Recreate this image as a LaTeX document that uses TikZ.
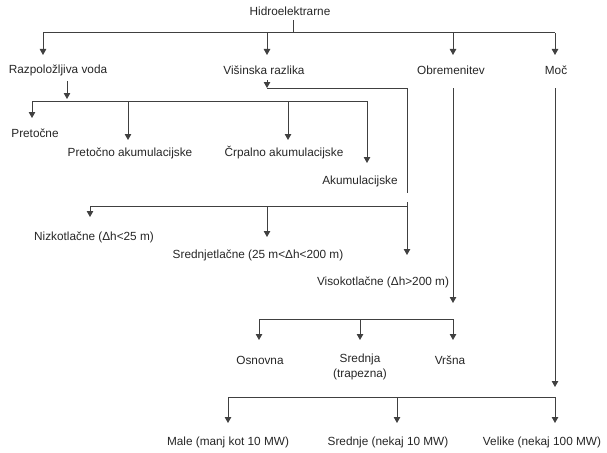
\documentclass[tikz,border=0pt]{standalone}
\usepackage{fontspec}
\setmainfont{Liberation Sans}
\usetikzlibrary{arrows.meta}
\begin{document}
\begin{tikzpicture}[x=1pt,y=-1pt,
  lbl/.style={font=\fontsize{11.8}{15}\selectfont, inner sep=0pt, text=black!85},
  ln/.style={draw=black!75, line width=1pt},
  arr/.style={ln, -{Triangle[length=6pt,width=6.5pt]}}]
\useasboundingbox (0,0) rectangle (607,452);
% labels
\node[lbl] (hid) at (290,11) {Hidroelektrarne};
\node[lbl] (raz) at (58,70) {Razpoložljiva voda};
\node[lbl] (vis) at (264,70) {Višinska razlika};
\node[lbl] (obr) at (451,70) {Obremenitev};
\node[lbl] (moc) at (556,70) {Moč};
\node[lbl] (pret) at (35,133) {Pretočne};
\node[lbl] (pak) at (130,153) {Pretočno akumulacijske};
\node[lbl] (cak) at (284,153) {Črpalno akumulacijske};
\node[lbl] (akum) at (360,181) {Akumulacijske};
\node[lbl] (niz) at (94,237) {Nizkotlačne (Δh<25 m)};
\node[lbl] (sre) at (258,255) {Srednjetlačne (25 m<Δh<200 m)};
\node[lbl] (viso) at (383,282) {Visokotlačne (Δh>200 m)};
\node[lbl] (osn) at (260,360) {Osnovna};
\node[lbl, align=center] (srj) at (360,367) {Srednja\\(trapezna)};
\node[lbl] (vrs) at (450,360) {Vršna};
\node[lbl] (male) at (228,442) {Male (manj kot 10 MW)};
\node[lbl] (srn) at (388,442) {Srednje (nekaj 10 MW)};
\node[lbl] (vel) at (542,442) {Velike (nekaj 100 MW)};
% level 1
\coordinate (j0) at (293,33);
\coordinate (a1) at (43,33);
\coordinate (a2) at (267,33);
\coordinate (a3) at (453,33);
\coordinate (a4) at (555,33);
\coordinate (t1) at (43,55);
\coordinate (t2) at (267,55);
\coordinate (t3) at (453,55);
\coordinate (t4) at (555,55);
\draw[ln, shorten >=4pt] (j0) -- (j0 |- hid.south);
\draw[ln] (a1) -- (a4);
\draw[arr] (a1) -- (t1);
\draw[arr] (a2) -- (t2);
\draw[arr] (a3) -- (t3);
\draw[arr] (a4) -- (t4);
% Razpolozljiva voda
\coordinate (r0) at (67,81);
\coordinate (r1) at (67,99);
\coordinate (b1) at (32,101);
\coordinate (b2) at (128,101);
\coordinate (b3) at (288,101);
\coordinate (b4) at (367,101);
\coordinate (u1) at (32,118);
\coordinate (u2) at (128,140);
\coordinate (u3) at (288,140);
\coordinate (u4) at (367,163);
\draw[arr] (r0) -- (r1);
\draw[ln] (b1) -- (b4);
\draw[arr] (b1) -- (u1);
\draw[arr] (b2) -- (u2);
\draw[arr] (b3) -- (u3);
\draw[arr] (b4) -- (u4);
% Visinska razlika
\coordinate (v0) at (267,80);
\coordinate (v1) at (267,88);
\coordinate (v2) at (407,88);
\coordinate (v3) at (407,193);
\coordinate (v4) at (407,202);
\coordinate (v5) at (407,255);
\coordinate (c1) at (90,206);
\coordinate (c2) at (267,206);
\coordinate (c3) at (407,206);
\coordinate (w1) at (90,217);
\coordinate (w2) at (267,237);
\draw[arr] (v0) -- (v1);
\draw[ln] (v1) -- (v2) -- (v3);
\draw[arr] (v4) -- (v5);
\draw[ln] (c1) -- (c3);
\draw[arr] (c1) -- (w1);
\draw[arr] (c2) -- (w2);
% Obremenitev
\coordinate (o0) at (453,88);
\coordinate (o1) at (453,303);
\coordinate (d1) at (259,319);
\coordinate (d2) at (360,319);
\coordinate (d3) at (453,319);
\coordinate (x1) at (259,340);
\coordinate (x2) at (360,340);
\coordinate (x3) at (453,340);
\draw[arr] (o0) -- (o1);
\draw[ln] (d1) -- (d3);
\draw[arr] (d1) -- (x1);
\draw[arr] (d2) -- (x2);
\draw[arr] (d3) -- (x3);
% Moc
\coordinate (m0) at (555,88);
\coordinate (m1) at (555,387);
\coordinate (e1) at (228,397);
\coordinate (e2) at (397,397);
\coordinate (e3) at (555,397);
\coordinate (y1) at (228,423);
\coordinate (y2) at (397,423);
\coordinate (y3) at (555,423);
\draw[arr] (m0) -- (m1);
\draw[ln] (e1) -- (e3);
\draw[arr] (e1) -- (y1);
\draw[arr] (e2) -- (y2);
\draw[arr] (e3) -- (y3);
\end{tikzpicture}
\end{document}
